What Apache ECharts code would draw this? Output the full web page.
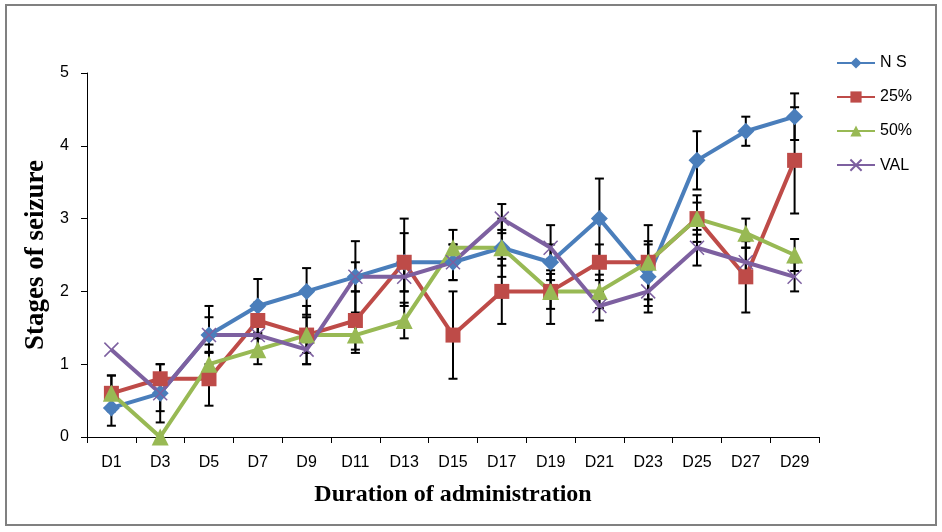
<!DOCTYPE html>
<html>
<head>
<meta charset="utf-8">
<script src="https://cdn.jsdelivr.net/npm/echarts@6/dist/echarts.min.js"></script>
<style>
html,body{margin:0;padding:0;background:#fff;}
#chart{width:942px;height:532px;}
</style>
</head>
<body>
<div id="chart"></div>
<script>
const categories = ['D1','D3','D5','D7','D9','D11','D13','D15','D17','D19','D21','D23','D25','D27','D29'];
const yTicks = [0,1,2,3,4,5];

const nsValues  = [0.4,0.6,1.4,1.8,2.0,2.2,2.4,2.4,2.6,2.4,3.0,2.2,3.8,4.2,4.4];
const p25Values = [0.6,0.8,0.8,1.6,1.4,1.6,2.4,1.4,2.0,2.0,2.4,2.4,3.0,2.2,3.8];
const p50Values = [0.6,0.0,1.0,1.2,1.4,1.4,1.6,2.6,2.6,2.0,2.0,2.4,3.0,2.8,2.5];
const valValues = [1.2,0.6,1.4,1.4,1.2,2.2,2.2,2.4,3.0,2.6,1.8,2.0,2.6,2.4,2.2];

const nsErr  = [0.245,0.245,0.4,0.37,0.32,0.49,0.4,0.245,0.245,0.245,0.55,0.49,0.4,0.2,0.32];
const p25Err = [0.245,0.2,0.37,0.245,0.245,0.4,0.6,0.6,0.447,0.447,0.245,0.51,0.32,0.49,0.73];
const p50Err = [0.245,0,0.27,0.2,0.4,0.245,0.245,0.245,0.4,0.24,0.23,0.245,0.22,0.2,0.22];
const valErr = [0,0.4,0.245,0.245,0.2,0.2,0.2,0.245,0.2,0.31,0.2,0.2,0.245,0.2,0.2];

const seriesNames = ['N S','25%','50%','VAL'];
const colors = ['#4A7EBB','#BE4B48','#98B954','#7D60A0'];

function errData(vals, errs){
  const out = [];
  vals.forEach((v,i)=>{ if(errs[i]>0) out.push([i, v, errs[i]]); });
  return out;
}

function errSeries(vals, errs){
  return {
    type:'custom',
    silent:true,
    z:1,
    data: errData(vals, errs),
    encode:{x:0,y:1},
    renderItem: function(params, api){
      const i = api.value(0), v = api.value(1), e = api.value(2);
      const top = api.coord([i, v+e]);
      const bot = api.coord([i, v-e]);
      const hw = 4.5;
      const st = {stroke:'#000', lineWidth:2};
      return {type:'group', children:[
        {type:'line', shape:{x1:top[0],y1:top[1],x2:bot[0],y2:bot[1]}, style:st},
        {type:'line', shape:{x1:top[0]-hw,y1:top[1],x2:top[0]+hw,y2:top[1]}, style:st},
        {type:'line', shape:{x1:bot[0]-hw,y1:bot[1],x2:bot[0]+hw,y2:bot[1]}, style:st}
      ]};
    }
  };
}

const xSymbol = 'path://M0,0 L10,10 M10,0 L0,10';

function lineSeries(name, vals, color, symbol, size, extraItem){
  return {
    name:name, type:'line', data:vals, z:3,
    symbol:symbol, symbolSize:size, showSymbol:true,
    lineStyle:{color:color, width:4},
    itemStyle:Object.assign({color:color, borderColor:color, borderWidth:0}, extraItem||{}),
    emphasis:{disabled:true},
    animation:false
  };
}

const chart = echarts.init(document.getElementById('chart'), null, {renderer:'canvas'});
chart.setOption({
  backgroundColor:'#ffffff',
  animation:false,
  textStyle:{fontFamily:'Liberation Sans'},
  graphic:[{type:'rect', shape:{x:6,y:5,width:930,height:520}, style:{fill:'none', stroke:'#808080', lineWidth:2}, z:-1}],
  grid:{left:87, right:123, top:73, bottom:95},
  legend:{
    orient:'vertical', left:831, top:50, itemWidth:38, itemHeight:14, itemGap:18,
    textStyle:{fontSize:16, color:'#000', fontFamily:'Liberation Sans', padding:[0,0,0,0]},
    data:seriesNames
  },
  xAxis:{
    type:'category', data:categories, boundaryGap:true,
    name:'Duration of administration', nameLocation:'middle', nameGap:46,
    nameTextStyle:{fontFamily:'Liberation Serif', fontWeight:'bold', fontSize:24, color:'#000'},
    axisLine:{lineStyle:{color:'#000', width:1}},
    axisTick:{show:true, length:6, lineStyle:{color:'#000'}},
    axisLabel:{color:'#000', fontSize:16, margin:18, interval:0}
  },
  yAxis:{
    type:'value', min:yTicks[0], max:yTicks[yTicks.length-1], interval:1,
    name:'Stages of seizure', nameLocation:'middle', nameGap:36,
    nameTextStyle:{fontFamily:'Liberation Serif', fontWeight:'bold', fontSize:27, color:'#000'},
    axisLine:{show:true, lineStyle:{color:'#000', width:1}},
    axisTick:{show:true, length:6, lineStyle:{color:'#000'}},
    axisLabel:{color:'#000', fontSize:16, margin:18},
    splitLine:{show:false}
  },
  series:[
    errSeries(nsValues, nsErr),
    errSeries(p25Values, p25Err),
    errSeries(p50Values, p50Err),
    errSeries(valValues, valErr),
    lineSeries('N S', nsValues, colors[0], 'diamond', 17),
    lineSeries('25%', p25Values, colors[1], 'rect', 15),
    lineSeries('50%', p50Values, colors[2], 'triangle', 17),
    lineSeries('VAL', valValues, colors[3], xSymbol, 14, {color:'none', borderColor:colors[3], borderWidth:1.5})
  ]
});
</script>
</body>
</html>
